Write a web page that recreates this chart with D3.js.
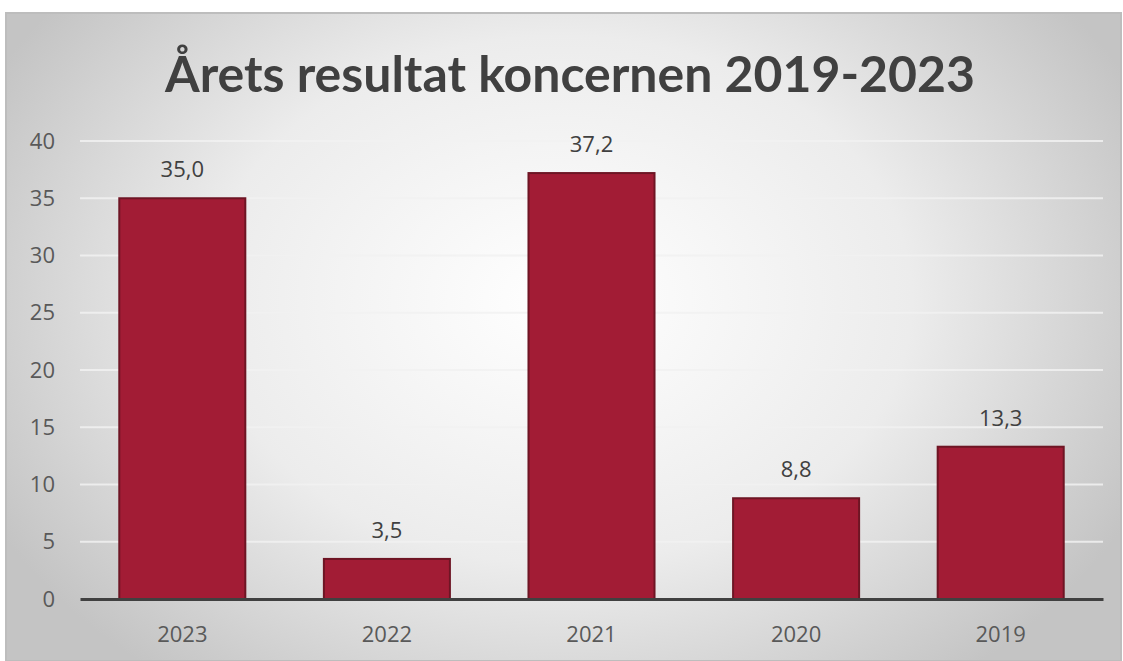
<!DOCTYPE html>
<html><head><meta charset="utf-8">
<script src="https://cdn.jsdelivr.net/npm/d3@7"></script>
<style>html,body{margin:0;padding:0;background:#fff;}svg{display:block;}</style>
</head><body><svg id="c" width="1123" height="661"></svg>
<script>
const title = "Årets resultat koncernen 2019-2023";
const categories = ["2023","2022","2021","2020","2019"];
const values = [35.0, 3.5, 37.2, 8.8, 13.3];
const yTicks = [0,5,10,15,20,25,30,35,40];

const svg = d3.select("#c");
const W = 1123, H = 661;
const defs = svg.append("defs");
const rg = defs.append("radialGradient").attr("id","bg")
  .attr("gradientUnits","userSpaceOnUse").attr("cx",560).attr("cy",300).attr("r",640)
  .attr("gradientTransform","translate(560,300) scale(1,0.75) translate(-560,-300)");
rg.append("stop").attr("offset","0").attr("stop-color","#ffffff");
rg.append("stop").attr("offset","0.55").attr("stop-color","#ececec");
rg.append("stop").attr("offset","1").attr("stop-color","#c4c4c4");

svg.append("rect").attr("x",6).attr("y",13).attr("width",W-8).attr("height",H-13)
  .attr("fill","url(#bg)").attr("stroke","#bdbdbd").attr("stroke-width",2);

const x = d3.scaleBand().domain(categories).range([80,1103]).paddingInner(0.384).paddingOuter(0.192);
const y = d3.scaleLinear().domain([0,40]).range([599,141]);

const font = "'Open Sans', 'Liberation Sans', sans-serif";
const fs = 22;

// gridlines
svg.append("g").selectAll("line").data(yTicks.filter(d=>d>0)).join("line")
  .attr("x1",80).attr("x2",1103).attr("y1",d=>y(d)).attr("y2",d=>y(d))
  .attr("stroke","#f2f2f2").attr("stroke-width",2).attr("opacity",0.85);

// y axis labels
const yAxis = d3.axisLeft(y).tickValues(yTicks).tickSize(0).tickPadding(0).tickFormat(d3.format("d"));
const gy = svg.append("g").attr("transform","translate(55,0)").call(yAxis);
gy.select(".domain").remove();
gy.selectAll("text").attr("font-family",font).attr("font-size",fs).attr("fill","#595959");

// bars
svg.append("g").selectAll("rect").data(values).join("rect")
  .attr("x",(d,i)=>x(categories[i])).attr("width",x.bandwidth())
  .attr("y",d=>y(d)).attr("height",d=>y(0)-y(d))
  .attr("fill","#a21c35").attr("stroke","#6e1524").attr("stroke-width",2);

// data labels
svg.append("g").selectAll("text").data(values).join("text")
  .attr("x",(d,i)=>x(categories[i])+x.bandwidth()/2).attr("y",d=>y(d)-21)
  .attr("text-anchor","middle").attr("font-family",font).attr("font-size",fs).attr("fill","#404040")
  .text(d=>d3.format(".1f")(d).replace(".",","));

// x axis
const xAxis = d3.axisBottom(x).tickSize(0);
const gx = svg.append("g").attr("transform","translate(0,599)").call(xAxis);
gx.select(".domain").attr("stroke","#404040").attr("stroke-width",3);
gx.selectAll("text").attr("y",43).attr("dy",0).attr("font-family",font).attr("font-size",fs).attr("fill","#595959");

// title
const t = svg.append("text").attr("x",570).attr("y",92).attr("text-anchor","middle")
  .attr("font-family","Lato, 'Open Sans', sans-serif").attr("font-weight","bold").attr("font-size",48)
  .attr("fill","#404040").text(title);
const tw = t.node().getComputedTextLength();
t.attr("font-size", 48*810/tw);
</script></body></html>
